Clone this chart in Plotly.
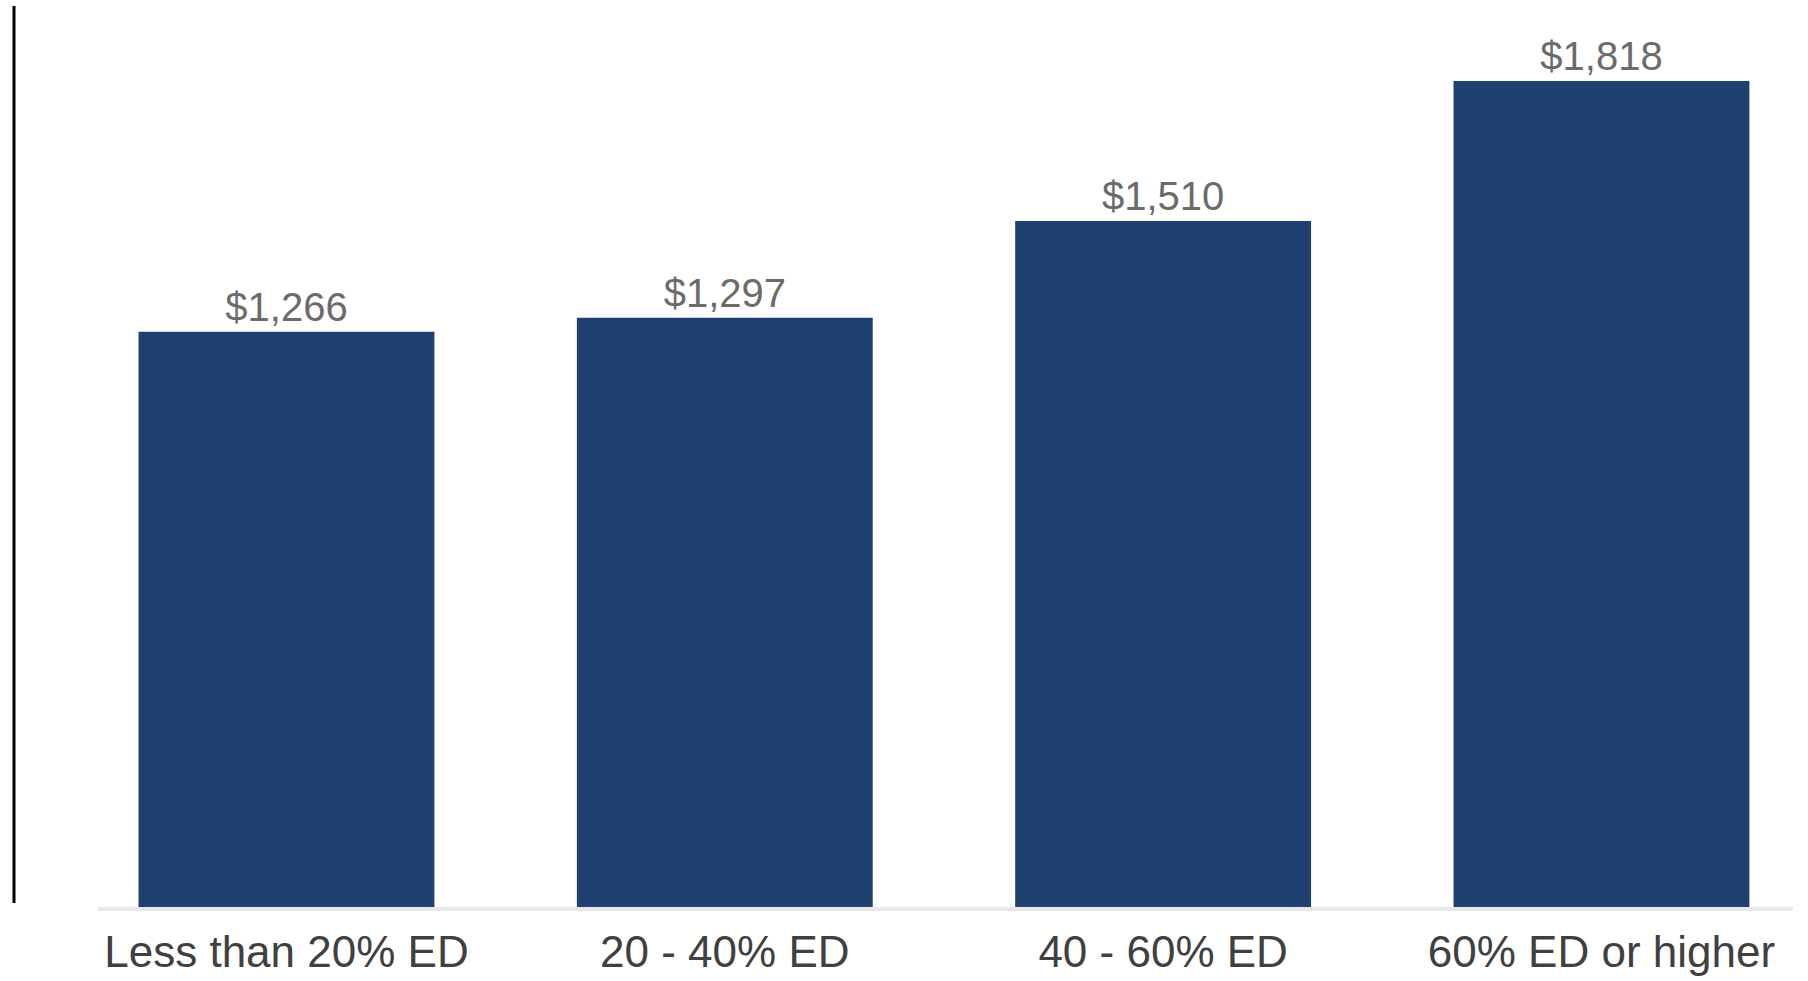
import plotly.graph_objects as go

categories = ["Less than 20% ED", "20 - 40% ED", "40 - 60% ED", "60% ED or higher"]
values = [1266, 1297, 1510, 1818]

W, H = 1808, 981
L, R, T, B = 98, 15, 6, 74

fig = go.Figure()
fig.add_trace(go.Bar(
    x=categories,
    y=values,
    width=0.675,
    marker=dict(color="#1F416F", line=dict(width=0)),
    texttemplate="$%{y:,}",
    textposition="outside",
    textfont=dict(family="Liberation Sans, Arial, sans-serif", size=40, color="#6b6b6b"),
    cliponaxis=False,
    hoverinfo="skip",
))

fig.update_layout(
    width=W, height=H,
    margin=dict(l=L, r=R, t=T, b=B, autoexpand=False),
    paper_bgcolor="white",
    plot_bgcolor="white",
    showlegend=False,
    font=dict(family="Liberation Sans, Arial, sans-serif"),
)
fig.update_xaxes(
    type="category",
    range=[-0.43, 3.437],
    showgrid=False,
    showline=True,
    linecolor="rgba(215,215,215,0.6)",
    linewidth=4,
    ticks="",
    tickfont=dict(size=44, color="#404040"),
    ticklabelstandoff=3,
)
fig.update_yaxes(
    range=[0, 1983],
    showgrid=False,
    showticklabels=False,
    zeroline=False,
    showline=False,
)
# black vertical rule at the far left
fig.add_shape(
    type="line", xref="paper", yref="paper",
    x0=(14 - L) / (W - L - R), x1=(14 - L) / (W - L - R),
    y0=(H - B - 903) / (H - T - B), y1=1.0,
    line=dict(color="black", width=3),
)
fig.write_html("out.html")
